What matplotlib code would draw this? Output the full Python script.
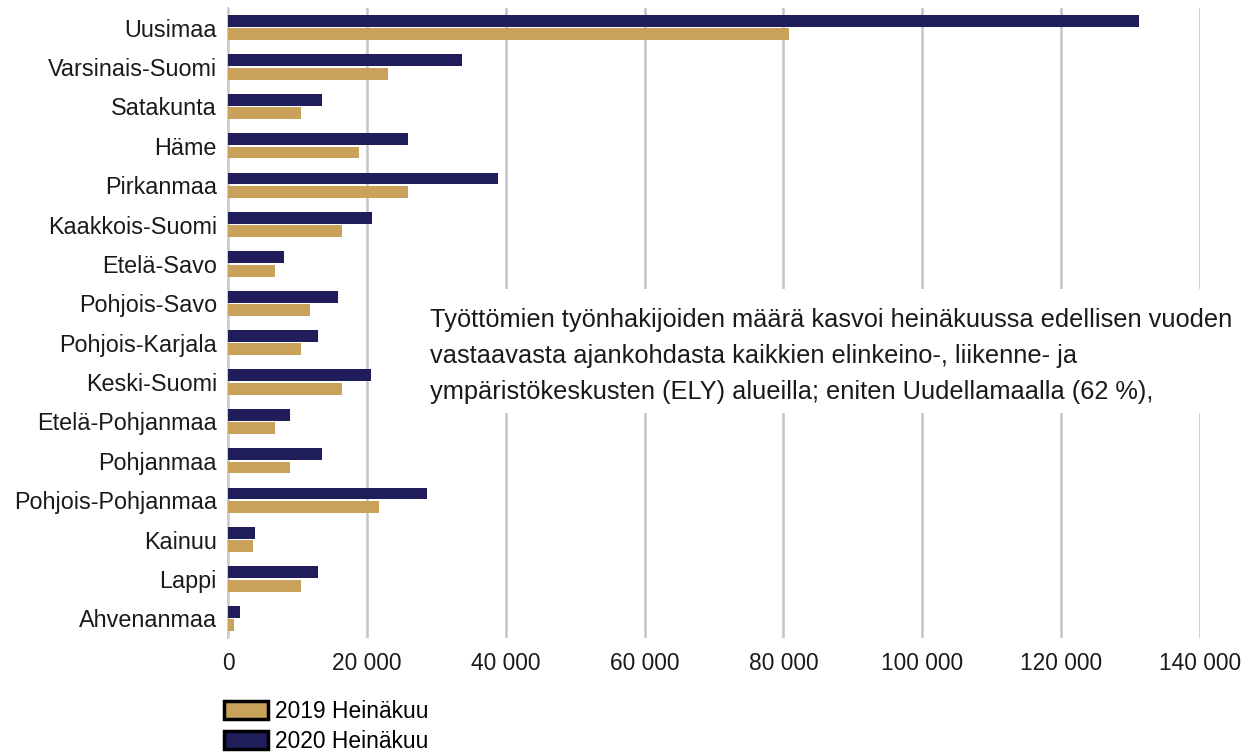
import matplotlib
matplotlib.use("Agg")
import matplotlib.pyplot as plt
import numpy as np
from matplotlib.patches import Patch, Rectangle

plt.rcParams["font.family"] = ["Liberation Sans", "DejaVu Sans"]

regions = [
    "Uusimaa", "Varsinais-Suomi", "Satakunta", "Häme", "Pirkanmaa",
    "Kaakkois-Suomi", "Etelä-Savo", "Pohjois-Savo", "Pohjois-Karjala",
    "Keski-Suomi", "Etelä-Pohjanmaa", "Pohjanmaa", "Pohjois-Pohjanmaa",
    "Kainuu", "Lappi", "Ahvenanmaa",
]
jul_2020 = [131200, 33700, 13500, 25900, 38900, 20700, 8000, 15800, 13000,
            20600, 8900, 13500, 28700, 3900, 13000, 1800]
jul_2019 = [80800, 23000, 10500, 18900, 25900, 16400, 6700, 11800, 10500,
            16400, 6800, 8900, 21700, 3600, 10500, 800]
series_labels = ["2019 Heinäkuu", "2020 Heinäkuu"]
xticks = [0, 20000, 40000, 60000, 80000, 100000, 120000, 140000]
note_lines = [
    "Työttömien työnhakijoiden määrä kasvoi heinäkuussa edellisen vuoden",
    "vastaavasta ajankohdasta kaikkien elinkeino-, liikenne- ja",
    "ympäristökeskusten (ELY) alueilla; eniten Uudellamaalla (62 %),",
]

NAVY = "#201e5a"
GOLD = "#c9a15b"
TXT = "#1a1a1a"
FS = 16.8

W, H = 1243, 753
fig = plt.figure(figsize=(W / 100, H / 100), dpi=100)
ax = fig.add_axes([228 / W, 1 - 638 / H, (1200 - 228) / W, (638 - 8) / H])

y = np.arange(len(regions))
ax.barh(y - 0.17, jul_2020, height=0.3, color=NAVY, zorder=3)
ax.barh(y + 0.17, jul_2019, height=0.3, color=GOLD, zorder=3)

ax.set_ylim(len(regions) - 0.5, -0.5)
ax.set_xlim(0, 140000)
ax.set_yticks(y)
ax.set_yticklabels(regions, fontsize=FS, color=TXT)
ax.set_xticks(xticks)
ax.set_xticklabels([f"{v:,}".replace(",", " ") for v in xticks], fontsize=16.4, color=TXT)
ax.tick_params(axis="both", length=0)
ax.tick_params(axis="y", pad=8)
ax.tick_params(axis="x", pad=10)

ax.grid(axis="x", color="#c4c4c4", linewidth=1.8, zorder=0)
ax.set_axisbelow(True)
for s in ["top", "right", "bottom"]:
    ax.spines[s].set_visible(False)
ax.spines["left"].set_color("#cfcfcf")
ax.spines["left"].set_linewidth(1.5)

# white box with the note text, covering the gridlines
fig.patches.append(Rectangle((425 / W, 1 - 413 / H), (W - 425) / W, (413 - 289) / H,
                             transform=fig.transFigure, facecolor="white",
                             edgecolor="none", zorder=5))
for i, line in enumerate(note_lines):
    fig.text(430 / W, 1 - (320 + 36 * i) / H, line, fontsize=18.3, color=TXT,
             ha="left", va="center", zorder=6)

handles = [
    Patch(facecolor=GOLD, edgecolor="black", linewidth=2.5),
    Patch(facecolor=NAVY, edgecolor="black", linewidth=2.5),
]
fig.legend(handles, series_labels, loc="upper left",
           bbox_to_anchor=(224 / W, 1 - 700 / H), frameon=False,
           fontsize=16.4, handlelength=1.95, handleheight=0.85,
           handletextpad=0.3, labelspacing=0.3, borderpad=0,
           borderaxespad=0)

fig.savefig("out.png", dpi=100, facecolor="white")
